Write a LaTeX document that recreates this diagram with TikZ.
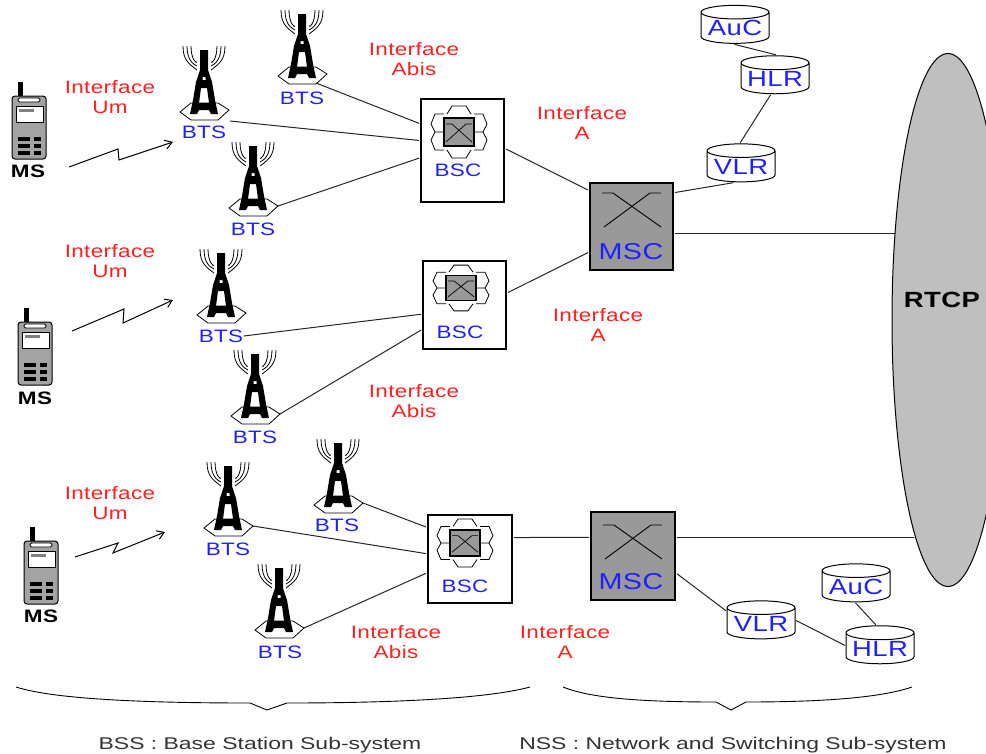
\documentclass[tikz,border=0pt]{standalone}
\usepackage{fontspec}
\setmainfont[FakeStretch=1.25,LetterSpace=2]{Liberation Sans}
\newfontfamily\subfont[FakeStretch=1.35]{Liberation Sans}
\usetikzlibrary{shapes.geometric,arrows.meta}
\definecolor{boxgray}{HTML}{999999}
\definecolor{lblblue}{HTML}{2020FF}
\definecolor{lblred}{HTML}{FF2020}
\newcommand{\dblbl}[1]{\raisebox{-3.5pt}{#1}}
\tikzset{
  bts/.pic={
    \draw[line width=0.8pt] (-24,0) -- (-13,-9) -- (14,-9) -- (25,-2) -- (14,8) -- (-13,8) -- cycle;
    \fill[black,even odd rule] (-4,-62) -- (4,-62) -- (4,-42) -- (8,-30) -- (11,-12) -- (14,2) -- (7,2) -- (5,-2) -- (-5,-2) -- (-7,2) -- (-14,2) -- (-11,-12) -- (-8,-30) -- (-4,-42) -- cycle
      (-3,-24) -- (3,-24) -- (5,-9) -- (-5,-9) -- cycle
      (-1.5,-35) -- (1.5,-35) -- (1.5,-32) -- (-1.5,-32) -- cycle;
    \foreach \a/\b in {21/42,17/46,13/50} {
      \draw[line width=0.8pt] (-\a,-66) .. controls (-\a,-52) and (-\a+6,-48) .. (-7,-\b);
      \draw[line width=0.8pt] (\a,-66) .. controls (\a,-52) and (\a-6,-48) .. (7,-\b);
    }
    \coordinate (-e) at (25,-2);
    \coordinate (-se) at (14,7);
    \coordinate (-c) at (26,9);
  },
  swicon/.pic={
    \foreach \s in {-1,1} {
      \draw[line width=0.8pt] (\s*15,-18) -- (\s*24,-18) -- (\s*28,-8) -- (\s*24,0) -- (\s*15,0);
      \draw[line width=0.8pt] (\s*15,18) -- (\s*24,18) -- (\s*28,8) -- (\s*24,0);
      \draw[line width=0.8pt] (-12,\s*18) -- (-7,\s*26) -- (7,\s*26) -- (12,\s*18);
    }
    \draw[line width=1.4pt,fill=boxgray] (-15,-14) rectangle (15,14);
    \draw[line width=0.7pt] (-13,-8) -- (-7,-8) -- (13,10);
    \draw[line width=0.7pt] (-13,10) -- (7,-8) -- (13,-8);
  },
  cross/.pic={
    \draw[line width=0.9pt] (-29,-33) -- (-18,-33) -- (30,1);
    \draw[line width=0.9pt] (-27,1) -- (19,-33) -- (30,-33);
  },
  phone/.pic={
    \fill[black] (-11,-45) rectangle (-6,-31);
    \draw[line width=1pt,fill=boxgray!90,rounded corners=3pt] (-17,-31) rectangle (17,32);
    \draw[line width=0.8pt,fill=white,rounded corners=1.5pt] (-11,-29) rectangle (11,-25);
    \draw[line width=0.8pt,fill=white] (-13,-21) rectangle (14,-5);
    \fill[gray] (-10,-18) rectangle (5,-15);
    \foreach \r in {10,17,24} {
      \fill[black] (-11,\r) rectangle (1,\r+4);
      \fill[black] (5,\r) rectangle (12,\r+4);
    }
  }
}
\begin{document}
\begin{tikzpicture}[x=1pt,y=-1pt,line width=1pt]
\tikzstyle{every node}+=[inner sep=0pt]
\tikzstyle{lblred}=[text=lblred,align=center,font=\fontsize{18}{20}\selectfont]
\tikzstyle{lblbts}=[text=lblblue,font=\fontsize{18}{20}\selectfont]
\tikzstyle{lblms}=[font=\fontsize{18}{20}\selectfont\bfseries]
\tikzstyle{lblmsc}=[text=lblblue,font=\fontsize{23}{25}\selectfont]
\tikzstyle{lblsub}=[text=black!80,font=\subfont\fontsize{17}{19}\selectfont]
\tikzstyle{bscbox}=[draw,line width=1.1pt,fill=white,outer sep=2pt]
\tikzstyle{mscbox}=[draw,line width=1.4pt,fill=boxgray,outer sep=2pt]
\tikzstyle{dbase}=[draw,cylinder,shape border rotate=90,aspect=0.25,line width=1pt,fill=white,minimum width=68pt,minimum height=38pt,outer sep=1pt,text=lblblue,font=\fontsize{22}{24}\selectfont]
\tikzstyle{link}=[line width=1pt,black!85]
\tikzstyle{radio}=[line width=1pt,-{Straight Barb[length=7pt,width=9pt]}]
\useasboundingbox (0,0) rectangle (986,753);

\node[draw,ellipse,line width=1pt,fill=black!25,minimum width=112pt,minimum height=533pt,outer sep=0pt] (rtcp) at (948,320) {};
\node[font=\fontsize{22}{24}\selectfont\bfseries] (rtcplbl) at (942,300) {RTCP};

\node[bscbox,minimum width=83pt,minimum height=103pt] (bsc1) at (462.5,150.5) {};
\node[bscbox,minimum width=83pt,minimum height=88pt] (bsc2) at (464.5,305) {};
\node[bscbox,minimum width=84pt,minimum height=88pt] (bsc3) at (470,559) {};
\pic at (459,132) {swicon};
\pic[yscale=0.88] at (461,288) {swicon};
\pic[yscale=0.92] at (465,543) {swicon};
\node[lblbts] (bsc1lbl) at (458,170) {BSC};
\node[lblbts] (bsc2lbl) at (460,332) {BSC};
\node[lblbts] (bsc3lbl) at (465,586) {BSC};

\node[mscbox,minimum width=83pt,minimum height=87pt] (msc1) at (631.5,226.5) {};
\node[mscbox,minimum width=84pt,minimum height=88pt] (msc3) at (633,556) {};
\pic at (631,226) {cross};
\pic at (632,558) {cross};
\node[lblmsc] (msc1lbl) at (631,252) {MSC};
\node[lblmsc] (msc3lbl) at (631,582) {MSC};

\node[dbase] (auc1) at (735,28) {\dblbl{AuC}};
\node[dbase] (hlr1) at (775,78.5) {\dblbl{HLR}};
\node[dbase] (vlr1) at (741,166.5) {\dblbl{VLR}};
\node[dbase] (auc3) at (856,586.5) {\dblbl{AuC}};
\node[dbase] (hlr3) at (880,648.5) {\dblbl{HLR}};
\node[dbase] (vlr3) at (761,623.5) {\dblbl{VLR}};

\pic (t11) at (204,112) {bts};
\pic (t12) at (302,76) {bts};
\pic (t13) at (253,208) {bts};
\pic (t21) at (221,315) {bts};
\pic (t22) at (255,416) {bts};
\pic (t31) at (228,528) {bts};
\pic (t32) at (338,505) {bts};
\pic (t33) at (279,630) {bts};
\node[lblbts] (b11) at (204,132) {BTS};
\node[lblbts] (b12) at (302,98) {BTS};
\node[lblbts] (b13) at (253,229) {BTS};
\node[lblbts] (b21) at (221,336) {BTS};
\node[lblbts] (b22) at (255,437) {BTS};
\node[lblbts] (b31) at (228,549) {BTS};
\node[lblbts] (b32) at (337,525) {BTS};
\node[lblbts] (b33) at (280,652) {BTS};

\pic at (29,127) {phone};
\pic at (35,353) {phone};
\pic at (41,572) {phone};
\node[lblms] (ms1) at (28,171) {MS};
\node[lblms] (ms2) at (35,398) {MS};
\node[lblms] (ms3) at (41,616) {MS};

\draw[link] (t12-se) -- (bsc1.148.4);
\draw[link] (t11-c) -- (bsc1.167);
\draw[link] (t13-e) -- (bsc1.190);
\draw[link] (bsc1.2) -- (msc1.140);
\draw[link] (b21.east) -- (bsc2.192);
\draw[link] (t22-e) -- (bsc2.210);
\draw[link] (bsc2.16) -- (msc1.211.6);
\draw[link] (t32-e) -- (bsc3.144.5);
\draw[link] (t31-e) -- (bsc3.173);
\draw[link] (t33-e) -- (bsc3.198.4);
\draw[link] (bsc3.26.6) -- (msc3.157);
\draw[link] (msc1.-9) -- (msc1.-9 -| rtcp.121.4);
\draw[link] (msc3.23) -- (msc3.23 -| rtcp.261.6);
\draw[link] (msc1.38) -- (vlr1.-115);
\draw[link] (vlr1.92) -- (hlr1.-105);
\draw[link] (hlr1.88) -- (auc1.-92);
\draw[link] (msc3.-22) -- (vlr3.160);
\draw[link] (vlr3.5) -- (hlr3.175);
\draw[link] (auc3.-92) -- (hlr3.100);

\coordinate (z1a) at (69,167);
\coordinate (z1b) at (118,149);
\coordinate (z1c) at (119,160);
\coordinate (z1d) at (173,142);
\coordinate (z2a) at (72,331);
\coordinate (z2b) at (124,309);
\coordinate (z2c) at (123,323);
\coordinate (z2d) at (173,300);
\coordinate (z3a) at (75,557);
\coordinate (z3b) at (118,543);
\coordinate (z3c) at (113,553);
\coordinate (z3d) at (165,532);
\draw[radio] (z1a) -- (z1b) -- (z1c) -- (z1d);
\draw[radio] (z2a) -- (z2b) -- (z2c) -- (z2d);
\draw[radio] (z3a) -- (z3b) -- (z3c) -- (z3d);

\node[lblred] (um1) at (110,97) {Interface\\Um};
\node[lblred] (um2) at (110,261) {Interface\\Um};
\node[lblred] (um3) at (110,503) {Interface\\Um};
\node[lblred] (abis1) at (414,59) {Interface\\Abis};
\node[lblred] (abis2) at (414,401) {Interface\\Abis};
\node[lblred] (abis3) at (396,642) {Interface\\Abis};
\node[lblred] (a1) at (582,123) {Interface\\A};
\node[lblred] (a2) at (598,325) {Interface\\A};
\node[lblred] (a3) at (565,642) {Interface\\A};

\coordinate (bssl) at (16,687);
\coordinate (bsst) at (267,710);
\coordinate (bssr) at (530,687);
\coordinate (nssl) at (563,687);
\coordinate (nsst) at (731,710);
\coordinate (nssr) at (912,687);
\draw[line width=0.9pt] (bssl) .. controls (50,698) and (130,703) .. (250,703) -- (bsst) -- (287,703) .. controls (400,703) and (490,698) .. (bssr);
\draw[line width=0.9pt] (nssl) .. controls (590,698) and (640,702) .. (716,702) -- (nsst) -- (746,702) .. controls (820,702) and (880,698) .. (nssr);

\node[lblsub] (bss) at (260,745) {BSS : Base Station Sub-system};
\node[lblsub] (nss) at (733,745) {NSS : Network and Switching Sub-system};
\end{tikzpicture}
\end{document}
